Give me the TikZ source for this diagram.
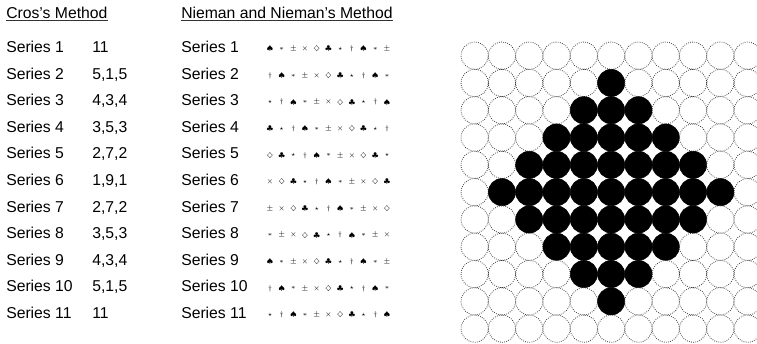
\documentclass[tikz,border=0pt]{standalone}
\usepackage{fontspec}
\setmainfont{Liberation Sans}
\newcommand\nsym[1]{\ifcase#1 $\ast$\or $\star$\or $\times$\or $\spadesuit$\or $\clubsuit$\or $\pm$\or $\dagger$\or $\diamondsuit$\fi}
\begin{document}
\begin{tikzpicture}[x=0.75pt, y=-0.75pt,
    lbl/.style={anchor=base west, font=\fontsize{11.8}{14}\selectfont, inner sep=0pt},
    mk/.style={font=\tiny, inner sep=0pt},
    cell/.style={draw=black!75, densely dotted, line width=0.6pt},
    full/.style={fill=black, draw=black}]
    \useasboundingbox (0,0) rectangle (757,343);

    % Headings
    \node[lbl] (cros) at (6,18) {Cros's Method};
    \node[lbl] (nieman) at (181,18) {Nieman and Nieman's Method};
    \draw[black!80, line width=0.8pt] ([yshift=-1.6pt]cros.base west) -- ([yshift=-1.6pt]cros.base east);
    \draw[black!80, line width=0.8pt] ([yshift=-1.6pt]nieman.base west) -- ([yshift=-1.6pt]nieman.base east);

    % Rows of both methods
    \foreach \i/\c in {1/11, 2/{5,1,5}, 3/{4,3,4}, 4/{3,5,3}, 5/{2,7,2}, 6/{1,9,1},
                       7/{2,7,2}, 8/{3,5,3}, 9/{4,3,4}, 10/{5,1,5}, 11/11} {
        \pgfmathsetmacro\yy{52.5+26.6*(\i-1)}
        \node[lbl] (s\i) at (6,\yy) {Series \i};
        \node[lbl] (c\i) at (92,\yy) {\c};
        \node[lbl] (n\i) at (181,\yy) {Series \i};
        \foreach \k in {0,...,10} {
            \pgfmathtruncatemacro\m{mod(3*\i+5*\k,8)}
            \node[mk] (m\i-\k) at (270+11.7*\k,\yy-3.5) {\nsym{\m}};
        }
    }

    % Circle grid (right)
    \begin{scope}
        \clip (0,0) rectangle (757,343);
        \foreach \r in {0,...,10} {
            \foreach \q in {0,...,10} {
                \pgfmathtruncatemacro\d{abs(\r-5)+abs(\q-5)}
                \ifnum\d<5 \def\st{full}\else\def\st{cell}\fi
                \path[\st] ({461+27.3*(\q+0.5)},{42+27.3*(\r+0.5)}) circle (10.2pt);
            }
        }
    \end{scope}
\end{tikzpicture}
\end{document}
